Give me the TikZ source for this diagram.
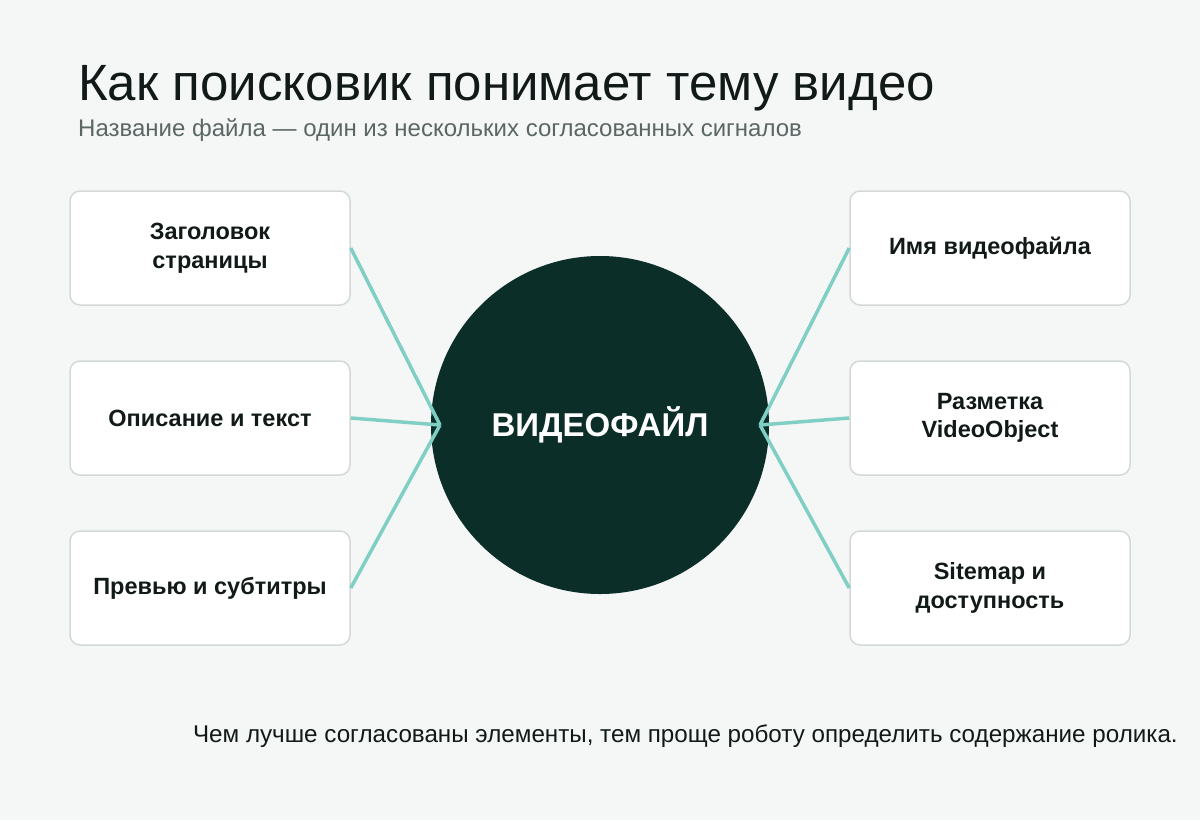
\documentclass[tikz,border=0pt]{standalone}
\usepackage{fontspec}
\setmainfont{Liberation Sans}
\definecolor{bgpaper}{HTML}{F5F7F6}
\definecolor{hubdark}{HTML}{0B2E29}
\definecolor{linkteal}{HTML}{7FCFC4}
\definecolor{boxedge}{HTML}{D3D9D7}
\definecolor{inkdark}{HTML}{111A18}
\definecolor{inkgray}{HTML}{5B6765}
\tikzset{
    signal/.style={draw=boxedge, line width=1.5pt, fill=white, rounded corners=10pt,
        minimum width=280pt, minimum height=114pt, align=center, text=inkdark,
        font=\fontsize{23.5}{28.5}\selectfont\bfseries},
    link/.style={draw=linkteal, line width=3.5pt}
}
\begin{document}
\begin{tikzpicture}[x=1pt, y=-1pt]
        \fill[bgpaper] (0,0) rectangle (1200,820);
        \useasboundingbox (0,0) rectangle (1200,820);

        % titles
        \node[anchor=base west, inner sep=0pt, text=inkdark, font=\fontsize{51}{60}\selectfont] (title) at (78,100) {Как поисковик понимает тему видео};
        \node[anchor=base west, inner sep=0pt, text=inkgray, font=\fontsize{24}{28}\selectfont] (subtitle) at (78,136) {Название файла — один из нескольких согласованных сигналов};

        % centre
        \node[circle, fill=hubdark, minimum size=338pt, inner sep=0pt] (hub) at (600,425) {};
        \coordinate (hubL) at (440,425);
        \coordinate (hubR) at (760,425);

        % left signals
        \node[signal] (heading) at (210,248) {Заголовок\\страницы};
        \node[signal] (descr) at (210,418) {Описание и текст};
        \node[signal] (preview) at (210,588) {Превью и субтитры};

        % right signals
        \node[signal] (fname) at (990,248) {Имя видеофайла};
        \node[signal] (markup) at (990,418) {Разметка\\VideoObject};
        \node[signal] (sitemap) at (990,588) {Sitemap и\\доступность};

        \draw[link] (heading.east) -- (hubL);
        \draw[link] (descr.east) -- (hubL);
        \draw[link] (preview.east) -- (hubL);
        \draw[link] (fname.west) -- (hubR);
        \draw[link] (markup.west) -- (hubR);
        \draw[link] (sitemap.west) -- (hubR);

        \node[text=white, font=\fontsize{33}{38}\selectfont\bfseries] (hublabel) at (hub.center) {ВИДЕОФАЙЛ};

        \node[anchor=base east, inner sep=0pt, text=inkdark, font=\fontsize{24.2}{28}\selectfont] (footer) at (1178,742) {Чем лучше согласованы элементы, тем проще роботу определить содержание ролика.};
    \end{tikzpicture}
\end{document}
